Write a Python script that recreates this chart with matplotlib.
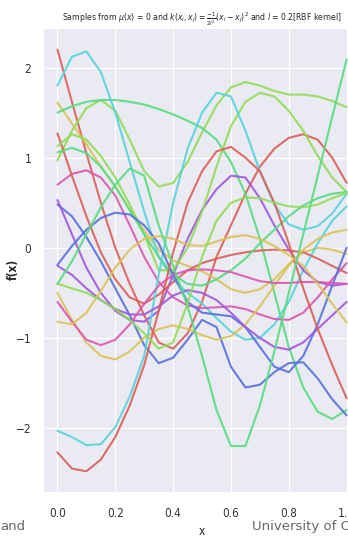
import matplotlib
matplotlib.use("Agg")
import matplotlib.pyplot as plt
import seaborn as sns
import numpy as np

x = np.linspace(0, 1, 21)

red_a = [2.20, 1.62, 1.05, 0.50, 0.00, -0.40, -0.75, -1.05, -1.12, -0.95, -0.60, -0.10, 0.25, 0.60, 0.90, 1.10, 1.22, 1.26, 1.20, 1.00, 0.72]
gold_a = [1.61, 1.38, 1.15, 0.90, 0.68, 0.42, 0.19, -0.02, -0.14, -0.20, -0.26, -0.35, -0.46, -0.50, -0.46, -0.35, -0.18, -0.05, 0.00, -0.02, -0.07]
lime_a = [0.97, 1.30, 1.55, 1.64, 1.52, 1.20, 0.85, 0.68, 0.72, 0.95, 1.28, 1.58, 1.78, 1.84, 1.80, 1.74, 1.70, 1.70, 1.68, 1.63, 1.56]
green_a = [1.50, 1.57, 1.62, 1.64, 1.64, 1.62, 1.59, 1.54, 1.48, 1.41, 1.33, 1.20, 0.95, 0.60, 0.10, -0.50, -1.10, -1.55, -1.82, -1.90, -1.80]
cyan_a = [1.80, 2.12, 2.18, 1.95, 1.50, 0.95, 0.40, -0.10, -0.35, -0.50, -0.62, -0.78, -0.93, -1.02, -1.00, -0.85, -0.60, -0.25, 0.05, 0.30, 0.46]
blue_a = [0.48, 0.35, 0.12, -0.15, -0.45, -0.75, -1.08, -1.28, -1.22, -1.02, -0.80, -0.88, -1.32, -1.55, -1.52, -1.38, -1.28, -1.27, -1.45, -1.68, -1.86]
purple_a = [0.53, 0.15, -0.22, -0.50, -0.70, -0.80, -0.82, -0.70, -0.30, 0.10, 0.42, 0.65, 0.80, 0.78, 0.55, 0.25, -0.02, -0.25, -0.38, -0.42, -0.40]
magenta_a = [0.70, 0.82, 0.86, 0.78, 0.58, 0.25, -0.10, -0.38, -0.55, -0.64, -0.67, -0.66, -0.65, -0.68, -0.74, -0.79, -0.80, -0.72, -0.55, -0.35, -0.17]
red_b = [1.27, 0.80, 0.35, -0.05, -0.35, -0.55, -0.62, -0.52, -0.38, -0.25, -0.17, -0.12, -0.08, -0.05, -0.03, -0.02, -0.03, -0.05, -0.12, -0.20, -0.28]
gold_b = [-0.50, -0.80, -1.05, -1.20, -1.24, -1.15, -1.00, -0.90, -0.86, -0.90, -0.97, -1.02, -0.98, -0.85, -0.65, -0.42, -0.20, -0.02, 0.10, 0.17, 0.20]
lime_b = [1.13, 1.26, 1.20, 1.02, 0.78, 0.48, 0.15, -0.25, -0.25, 0.00, 0.40, 0.90, 1.35, 1.62, 1.72, 1.68, 1.52, 1.30, 1.02, 0.78, 0.62]
green_b = [1.06, 1.11, 1.05, 0.90, 0.68, 0.42, 0.15, -0.10, -0.30, -0.40, -0.42, -0.35, -0.25, -0.12, 0.05, 0.20, 0.35, 0.47, 0.55, 0.60, 0.62]
cyan_b = [-2.03, -2.10, -2.19, -2.18, -1.99, -1.65, -1.20, -0.30, 0.50, 1.10, 1.50, 1.72, 1.68, 1.30, 0.85, 0.48, 0.26, 0.20, 0.24, 0.38, 0.60]
blue_b = [-0.19, 0.02, 0.20, 0.33, 0.39, 0.37, 0.25, 0.05, -0.30, -0.60, -0.72, -0.74, -0.76, -0.88, -1.10, -1.32, -1.38, -1.20, -0.85, -0.42, 0.00]
purple_b = [-0.20, -0.30, -0.45, -0.58, -0.68, -0.74, -0.74, -0.65, -0.53, -0.47, -0.50, -0.58, -0.72, -0.88, -1.00, -1.10, -1.13, -1.05, -0.90, -0.75, -0.60]
magenta_b = [-0.60, -0.82, -1.02, -1.08, -1.02, -0.85, -0.62, -0.42, -0.30, -0.25, -0.24, -0.25, -0.27, -0.32, -0.37, -0.39, -0.39, -0.38, -0.38, -0.39, -0.40]
red_c = [-2.27, -2.45, -2.48, -2.35, -2.10, -1.75, -1.30, -0.70, -0.05, 0.50, 0.85, 1.07, 1.12, 1.00, 0.85, 0.50, 0.05, -0.45, -0.90, -1.30, -1.67]
gold_c = [-0.82, -0.85, -0.72, -0.48, -0.22, -0.02, 0.10, 0.13, 0.10, 0.03, 0.02, 0.07, 0.12, 0.14, 0.10, 0.02, -0.08, -0.20, -0.40, -0.62, -0.83]
lime_c = [-0.40, -0.45, -0.50, -0.58, -0.68, -0.80, -0.95, -1.12, -1.05, -0.62, -0.10, 0.30, 0.50, 0.56, 0.55, 0.50, 0.46, 0.45, 0.48, 0.55, 0.61]
green_c = [-0.40, -0.15, 0.15, 0.45, 0.70, 0.88, 0.80, 0.25, -0.20, -0.65, -1.20, -1.80, -2.20, -2.20, -1.75, -1.15, -0.50, 0.15, 0.80, 1.45, 2.09]

samples = [red_a, gold_a, lime_a, green_a, cyan_a, blue_a, purple_a, magenta_a,
           red_b, gold_b, lime_b, green_b, cyan_b, blue_b, purple_b, magenta_b,
           red_c, gold_c, lime_c, green_c]

sns.set_style("darkgrid")
plt.rcParams['font.family'] = ['DejaVu Sans']
plt.rcParams['font.stretch'] = 'condensed'
colors = sns.color_palette("hls", 8)

fig = plt.figure(figsize=(3.48, 5.39), dpi=100)
# the axes runs off the right edge, like the cropped slide
ax = fig.add_axes([0.1236, 0.0872, 0.914, 0.861])

for i, s in enumerate(samples):
    ax.plot(x, s, color=colors[i % 8], lw=1.5, alpha=0.9)

ax.set_xlim(-0.05, 1.05)
ax.set_ylim(-2.71, 2.44)
ax.set_xticks([0.0, 0.2, 0.4, 0.6, 0.8, 1.0])
ax.set_xticklabels(["0.0", "0.2", "0.4", "0.6", "0.8", "1.0"])
ax.set_yticks([-2, -1, 0, 1, 2])
ax.tick_params(axis='x', labelsize=8.5, pad=7, colors='#333333')
ax.tick_params(axis='y', labelsize=8.5, pad=5, colors='#333333')

ax.set_title(r"Samples from $\mu(x)$ = 0 and $k(x_i, x_j) = \frac{-1}{2l^2}(x_i - x_j)^2$ and $l$ = 0.2[RBF kernel]",
             fontsize=6.2, pad=5)
ax.set_xlabel("x", fontsize=8.5, labelpad=4)
ax.set_ylabel("f(x)", fontsize=8.5, fontweight='bold')
ax.yaxis.set_label_coords(-0.072, 0.48)

# slide footer text visible in the crop
fig.text(0.0, 0.0223, "and", fontsize=9.5, color='#666666', va='center', stretch='normal')
fig.text(0.725, 0.0223, "University of C", fontsize=9.5, color='#666666', va='center', stretch='normal')

fig.savefig("out.png", dpi=100)
